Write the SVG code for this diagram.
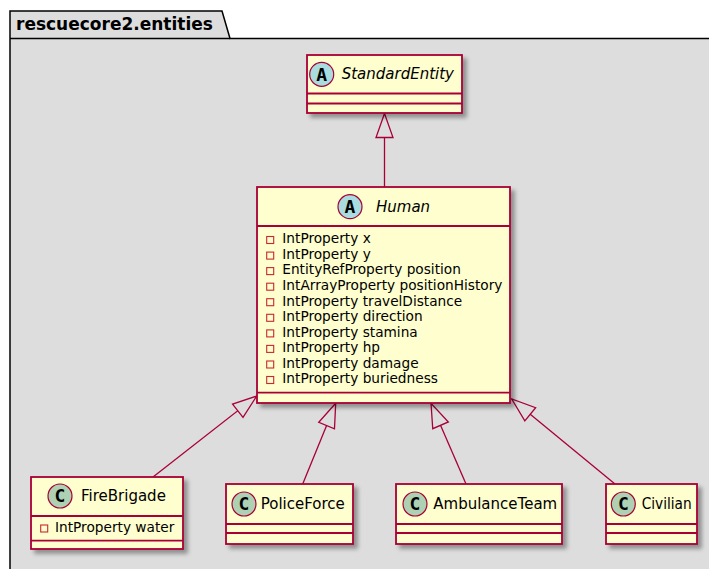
<svg xmlns="http://www.w3.org/2000/svg" width="709" height="569" viewBox="0 0 709 569">
  <style>
    .pkg { fill: #DDDDDD; stroke: #000000; stroke-width: 1.5; }
    .pkg-title { font-family: "DejaVu Sans", "Liberation Sans", sans-serif; font-size: 17px; font-weight: bold; fill: #000000; }
    .box { fill: #FEFECE; stroke: #A80036; stroke-width: 1.8; }
    .div { stroke: #A80036; stroke-width: 1.8; }
    .name { font-family: "DejaVu Sans", "Liberation Sans", sans-serif; font-size: 15px; fill: #000000; }
    .abstract { font-style: italic; }
    .attr { font-family: "DejaVu Sans", "Liberation Sans", sans-serif; font-size: 13.7px; fill: #000000; }
    .priv { fill: none; stroke: #C82930; stroke-width: 1.1; }
    .spot { stroke: #A80036; stroke-width: 1.2; }
    .spot-a { fill: #A9DCDF; }
    .spot-c { fill: #ADD1B2; }
    .spot-letter { font-family: "DejaVu Sans Mono", "Liberation Mono", monospace; font-size: 18px; font-weight: bold; fill: #000000; text-anchor: middle; }
    .edge { fill: none; stroke: #A80036; stroke-width: 1.3; marker-end: url(#extends); }
  </style>
  <defs>
    <filter id="shadow" x="-10%" y="-10%" width="130%" height="130%">
      <feDropShadow dx="4" dy="4" stdDeviation="2" flood-color="#000000" flood-opacity="0.35"/>
    </filter>
    <marker id="extends" markerUnits="userSpaceOnUse" viewBox="-26 -11 28 22" markerWidth="28" markerHeight="22" refX="0" refY="0" orient="auto">
      <path d="M0,0 L-24,-8.5 L-24,8.5 Z" fill="#DDDDDD" stroke="#A80036" stroke-width="1.3" stroke-linejoin="miter"/>
    </marker>
  </defs>

  <rect x="0" y="0" width="709" height="569" fill="#FFFFFF"/>

  <!-- package rescuecore2.entities -->
  <g id="package">
    <path class="pkg" d="M10,11 L222,11 L230,38.5 L720,38.5 L720,580 L10,580 Z"/>
    <line x1="10" y1="38.5" x2="230" y2="38.5" stroke="#000000" stroke-width="1.5"/>
    <text class="pkg-title" x="16" y="30">rescuecore2.entities</text>
  </g>

  <!-- inheritance connectors -->
  <g id="connectors">
    <path class="edge" d="M384.5,187 L384.5,113.5"/>
    <path class="edge" d="M153,477 L256.7,396"/>
    <path class="edge" d="M302.7,484 L335.7,403.3"/>
    <path class="edge" d="M466,484 L431,403.3"/>
    <path class="edge" d="M615,484 L511.7,399"/>
  </g>

  <!-- StandardEntity (abstract) -->
  <g id="StandardEntity">
    <rect class="box" x="307" y="55" width="155" height="58" filter="url(#shadow)"/>
    <line class="div" x1="307" y1="93.5" x2="462" y2="93.5"/>
    <line class="div" x1="307" y1="103.5" x2="462" y2="103.5"/>
    <circle class="spot spot-a" cx="321.7" cy="74.3" r="12"/>
    <text class="spot-letter" x="321.7" y="80.6">A</text>
    <text class="name abstract" x="341.7" y="78.8">StandardEntity</text>
  </g>

  <!-- Human (abstract) -->
  <g id="Human">
    <rect class="box" x="257" y="187" width="253" height="216" filter="url(#shadow)"/>
    <line class="div" x1="257" y1="226" x2="510" y2="226"/>
    <line class="div" x1="257" y1="392.7" x2="510" y2="392.7"/>
    <circle class="spot spot-a" cx="350" cy="206.7" r="12"/>
    <text class="spot-letter" x="350" y="213">A</text>
    <text class="name abstract" x="376" y="211.7">Human</text>
    <g>
      <rect class="priv" x="266.7" y="236.5" width="7" height="7"/>
      <rect class="priv" x="266.7" y="252.1" width="7" height="7"/>
      <rect class="priv" x="266.7" y="267.6" width="7" height="7"/>
      <rect class="priv" x="266.7" y="283.2" width="7" height="7"/>
      <rect class="priv" x="266.7" y="298.7" width="7" height="7"/>
      <rect class="priv" x="266.7" y="314.3" width="7" height="7"/>
      <rect class="priv" x="266.7" y="329.9" width="7" height="7"/>
      <rect class="priv" x="266.7" y="345.4" width="7" height="7"/>
      <rect class="priv" x="266.7" y="361.0" width="7" height="7"/>
      <rect class="priv" x="266.7" y="376.5" width="7" height="7"/>
    </g>
    <text class="attr" x="282.3" y="243.3">IntProperty x</text>
    <text class="attr" x="282.3" y="258.9">IntProperty y</text>
    <text class="attr" x="282.3" y="274.4">EntityRefProperty position</text>
    <text class="attr" x="282.3" y="290.0">IntArrayProperty positionHistory</text>
    <text class="attr" x="282.3" y="305.5">IntProperty travelDistance</text>
    <text class="attr" x="282.3" y="321.1">IntProperty direction</text>
    <text class="attr" x="282.3" y="336.7">IntProperty stamina</text>
    <text class="attr" x="282.3" y="352.2">IntProperty hp</text>
    <text class="attr" x="282.3" y="367.8">IntProperty damage</text>
    <text class="attr" x="282.3" y="383.3">IntProperty buriedness</text>
  </g>

  <!-- FireBrigade -->
  <g id="FireBrigade">
    <rect class="box" x="31" y="477" width="152" height="72" filter="url(#shadow)"/>
    <line class="div" x1="31" y1="516" x2="183" y2="516"/>
    <line class="div" x1="31" y1="540.7" x2="183" y2="540.7"/>
    <circle class="spot spot-c" cx="60" cy="496" r="12"/>
    <text class="spot-letter" x="60" y="502.3">C</text>
    <text class="name" x="81" y="500.5">FireBrigade</text>
    <rect class="priv" x="40.7" y="525" width="7" height="7"/>
    <text class="attr" x="55" y="531.7">IntProperty water</text>
  </g>

  <!-- PoliceForce -->
  <g id="PoliceForce">
    <rect class="box" x="226" y="484" width="127" height="60" filter="url(#shadow)"/>
    <line class="div" x1="226" y1="524" x2="353" y2="524"/>
    <line class="div" x1="226" y1="533" x2="353" y2="533"/>
    <circle class="spot spot-c" cx="244" cy="504" r="12"/>
    <text class="spot-letter" x="244" y="510.3">C</text>
    <text class="name" x="260.7" y="509">PoliceForce</text>
  </g>

  <!-- AmbulanceTeam -->
  <g id="AmbulanceTeam">
    <rect class="box" x="396" y="484" width="166" height="60" filter="url(#shadow)"/>
    <line class="div" x1="396" y1="524" x2="562" y2="524"/>
    <line class="div" x1="396" y1="533" x2="562" y2="533"/>
    <circle class="spot spot-c" cx="415" cy="504" r="12"/>
    <text class="spot-letter" x="415" y="510.3">C</text>
    <text class="name" x="433.3" y="509">AmbulanceTeam</text>
  </g>

  <!-- Civilian -->
  <g id="Civilian">
    <rect class="box" x="606" y="484" width="91" height="60" filter="url(#shadow)"/>
    <line class="div" x1="606" y1="524" x2="697" y2="524"/>
    <line class="div" x1="606" y1="533" x2="697" y2="533"/>
    <circle class="spot spot-c" cx="623.3" cy="504" r="12"/>
    <text class="spot-letter" x="623.3" y="510.3">C</text>
    <text class="name" x="641.7" y="509" textLength="50" lengthAdjust="spacingAndGlyphs">Civilian</text>
  </g>
</svg>
